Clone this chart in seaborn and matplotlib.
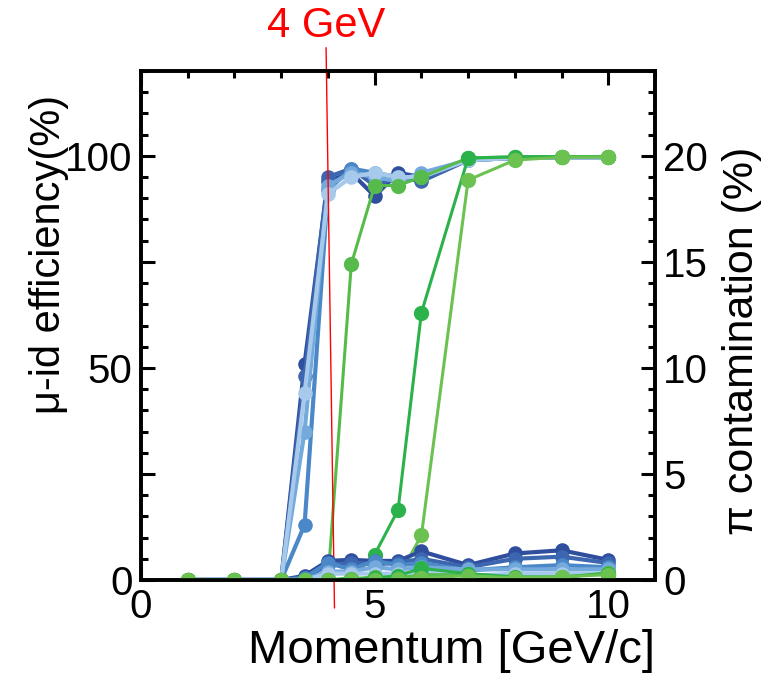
import matplotlib
matplotlib.use("Agg")
import matplotlib.pyplot as plt
import seaborn as sns
import pandas as pd
from matplotlib.ticker import MultipleLocator, FixedLocator, FixedFormatter

# ---------------- data ----------------
momentum = [1, 2, 3, 3.5, 4, 4.5, 5, 5.5, 6, 7, 8, 9, 10]

# mu-id efficiency (%), left axis
eff_blue1 = [0, 0, 0, 51, 94, 96, 90.5, 96, 95, 99, 99.5, 99.7, 99.7]
eff_blue2 = [0, 0, 0, 48, 95, 97, 93, 95, 94, 99, 99.5, 99.7, 99.7]
eff_blue3 = [0, 0, 0, 13, 92, 97, 96, 95, 95, 99, 99.5, 99.7, 99.7]
eff_blue4 = [0, 0, 0, 35, 93, 96, 95, 94, 96, 99, 99.5, 99.7, 99.7]
eff_blue5 = [0, 0, 0, 44, 91, 95, 96, 95, 95, 99, 99.5, 99.7, 99.7]

eff_green1 = [0, 0, 0, 0, 0, 74.5, 93, 93, 95, 99.5, 99.7, 99.8, 99.8]
eff_green2 = [0, 0, 0, 0, 0, 0.5, 6, 16.5, 63, 99.5, 99.8, 99.8, 99.8]
eff_green3 = [0, 0, 0, 0, 0, 0, 0, 0.5, 10.5, 94.3, 99, 99.7, 99.7]

# pi contamination (%), right axis
con_blue1 = [0, 0, 0, 0.2, 0.9, 0.95, 0.9, 0.9, 1.35, 0.7, 1.25, 1.4, 0.95]
con_blue2 = [0, 0, 0, 0.1, 0.7, 0.8, 0.75, 0.8, 1.0, 0.6, 1.0, 1.1, 0.8]
con_blue3 = [0, 0, 0, 0.1, 0.8, 0.5, 0.9, 0.7, 0.8, 0.45, 0.6, 0.7, 0.6]
con_blue4 = [0, 0, 0, 0, 0.4, 0.4, 0.6, 0.5, 0.6, 0.5, 0.5, 0.5, 0.5]
con_blue5 = [0, 0, 0, 0, 0.3, 0.3, 0.3, 0.3, 0.4, 0.2, 0.3, 0.3, 0.3]

con_green1 = [0, 0, 0, 0, 0, 0.05, 0.15, 0.1, 0.25, 0.25, 0, 0.1, 0.35]
con_green2 = [0, 0, 0, 0, 0, 0, 0.1, 0.2, 0.55, 0.3, 0.15, 0.15, 0.3]
con_green3 = [0, 0, 0, 0, 0, 0, 0, 0.05, 0.1, 0.2, 0.1, 0.15, 0.25]

blue_colors = ["#2f4e9e", "#3d66b0", "#4a88c8", "#74a9dc", "#a6c9ec"]
green_colors = ["#56bb4b", "#2cb24b", "#6cc250"]

x_ticklabels = ["0", "5", "10"]
left_ticklabels = ["0", "", "50", "", "100"]
right_ticklabels = ["0", "5", "10", "15", "20"]

# ---------------- style ----------------
sns.set_style("ticks")
plt.rcParams["font.family"] = ["Liberation Sans", "DejaVu Sans"]
plt.rcParams["text.color"] = "black"
plt.rcParams["axes.labelcolor"] = "black"

fig = plt.figure(figsize=(7.69, 6.77), dpi=100)
ax = fig.add_axes([0.1834, 0.1433, 0.6684, 0.7518])
ax2 = ax.twinx()

blue_kw = dict(marker="o", markersize=10.5, markeredgewidth=0, linewidth=3.0)
green_kw = dict(marker="o", markersize=11, markeredgewidth=0, linewidth=2.2)

for vals, c in zip([eff_blue1, eff_blue2, eff_blue3, eff_blue4, eff_blue5], blue_colors):
    sns.lineplot(x=momentum, y=vals, ax=ax, color=c, **blue_kw)
for vals, c in zip([eff_green1, eff_green2, eff_green3], green_colors):
    sns.lineplot(x=momentum, y=vals, ax=ax, color=c, **green_kw)

for vals, c in zip([con_blue1, con_blue2, con_blue3, con_blue4, con_blue5], blue_colors):
    sns.lineplot(x=momentum, y=vals, ax=ax2, color=c, **blue_kw)
for vals, c in zip([con_green1, con_green2, con_green3], green_colors):
    sns.lineplot(x=momentum, y=vals, ax=ax2, color=c, **green_kw)

ax.set_xlim(0, 11)
ax.set_ylim(0, 120)
ax2.set_ylim(0, 24)

# ticks
ax.xaxis.set_major_locator(FixedLocator([0, 5, 10]))
ax.xaxis.set_major_formatter(FixedFormatter(x_ticklabels))
ax.xaxis.set_minor_locator(MultipleLocator(1))
ax.yaxis.set_major_locator(FixedLocator([0, 25, 50, 75, 100]))
ax.yaxis.set_major_formatter(FixedFormatter(left_ticklabels))
ax.yaxis.set_minor_locator(MultipleLocator(5))
ax2.yaxis.set_major_locator(FixedLocator([0, 5, 10, 15, 20]))
ax2.yaxis.set_major_formatter(FixedFormatter(right_ticklabels))
ax2.yaxis.set_minor_locator(MultipleLocator(1))

ax.tick_params(which="both", direction="in", top=True, right=False, width=2.2,
               labelsize=29, colors="black", labelcolor="black", pad=6)
ax.tick_params(which="major", length=10)
ax.tick_params(which="minor", length=5)
ax2.tick_params(axis="y", which="both", direction="in", left=False, right=True,
                width=2.2, labelsize=29, colors="black", labelcolor="black", pad=6)
ax2.tick_params(axis="y", which="major", length=10)
ax2.tick_params(axis="y", which="minor", length=5)
ax2.tick_params(axis="x", which="both", bottom=False, top=False, labelbottom=False)

for a in (ax, ax2):
    for s in a.spines.values():
        s.set_linewidth(2.6)
        s.set_color("black")
        s.set_visible(True)

ax.set_xlabel("Momentum [GeV/c]", fontsize=34, loc="right", labelpad=2, color="black")
ax.set_ylabel("μ-id efficiency(%)", fontsize=30, color="black")
ax.yaxis.set_label_coords(-0.14, 0.64)
ax2.set_ylabel("π contamination (%)", fontsize=31, rotation=90, color="black")
ax2.yaxis.set_label_coords(1.13, 0.47)

# red annotation line and text
ax.plot([3.96, 4.14], [125.5, -6.6], color="red", linewidth=1.0, clip_on=False, zorder=10)
fig.text(0.424, 0.962, "4 GeV", color="red", fontsize=30, ha="center", va="center")

fig.savefig("out.png", dpi=100)
